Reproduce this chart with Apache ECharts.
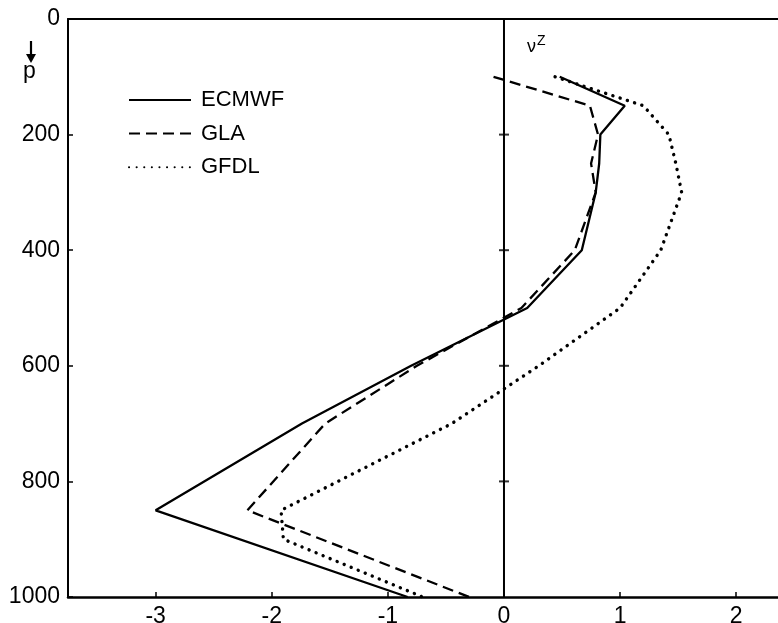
<!DOCTYPE html>
<html>
<head>
<meta charset="utf-8">
<script src="https://cdn.jsdelivr.net/npm/echarts@6/dist/echarts.min.js"></script>
<style>html,body{margin:0;padding:0;background:#fff}#c{width:778px;height:623px}</style>
</head>
<body>
<div id="c"></div>
<script>
// pressure levels (hPa) and values
const pLevels = [100, 150, 200, 250, 300, 400, 500, 600, 700, 850, 1000];
const ecmwf = [0.48, 1.04, 0.83, 0.82, 0.79, 0.67, 0.20, -0.80, -1.74, -3.00, -0.83];
const gla   = [-0.09, 0.74, 0.81, 0.75, 0.79, 0.61, 0.15, -0.75, -1.54, -2.21, -0.30];
const gfdlLevels = [100, 150, 200, 250, 300, 400, 500, 600, 700, 850, 900, 1000];
const gfdl  = [0.44, 1.20, 1.42, 1.48, 1.53, 1.35, 1.00, 0.30, -0.45, -1.92, -1.90, -0.70];
const xTicks = [-3, -2, -1, 0, 1, 2];
const yTicks = [0, 200, 400, 600, 800, 1000];
const zeroLineTicks = [200, 400, 600, 800];

const pair = (vals, lev) => vals.map((v, i) => [v, lev[i]]);
const FONT = 'Liberation Sans, Arial, sans-serif';
const FS = 23;

const chart = echarts.init(document.getElementById('c'), null, {renderer: 'canvas'});
chart.setOption({
  animation: false,
  backgroundColor: '#fff',
  grid: {left: 68, right: 0, top: 19, bottom: 26, containLabel: false, outerBoundsMode: 'none'},
  legend: {
    orient: 'vertical', left: 128, top: 89, padding: 0,
    itemWidth: 62, itemHeight: 24, itemGap: 11.6,
    itemStyle: {opacity: 0},
    textStyle: {fontFamily: FONT, fontSize: 22, color: '#000', padding: [0, 0, 0, 5]},
    data: ['ECMWF', 'GLA', 'GFDL']
  },
  xAxis: [{
    type: 'value', min: -3.755, max: 2.36, position: 'bottom',
    splitLine: {show: false},
    axisLine: {onZero: false, lineStyle: {color: '#000', width: 2.5}},
    axisTick: {inside: true, length: 5, lineStyle: {color: '#000', width: 1.5}, customValues: xTicks},
    axisLabel: {customValues: xTicks, margin: 8, fontFamily: FONT, fontSize: FS, color: '#000',
      formatter: v => String(v)}
  }, {
    type: 'value', min: -3.755, max: 2.36, position: 'top',
    splitLine: {show: false},
    axisLine: {onZero: false, lineStyle: {color: '#000', width: 2}},
    axisTick: {show: false}, axisLabel: {show: false}
  }],
  yAxis: [{
    type: 'value', inverse: true, min: 0, max: 1000, interval: 200,
    splitLine: {show: false},
    axisLine: {onZero: false, lineStyle: {color: '#000', width: 2}},
    axisTick: {inside: true, length: 5, lineStyle: {color: '#000', width: 1.5}},
    axisLabel: {margin: 8, fontFamily: FONT, fontSize: FS, color: '#000',
      formatter: v => String(v)}
  }],
  graphic: [
    {type: 'line', shape: {x1: 31, y1: 41, x2: 31, y2: 56}, style: {stroke: '#000', lineWidth: 2.2}},
    {type: 'polygon', shape: {points: [[26, 54], [36, 54], [31, 63]]}, style: {fill: '#000'}},
    {type: 'text', left: 23, top: 60, style: {text: 'p', fontFamily: FONT, fontSize: FS, fill: '#000'}},
    {type: 'text', left: 527, top: 34, style: {
      text: '{a|ν}{b|Z}', fill: '#000',
      rich: {a: {fontFamily: FONT, fontSize: 18, padding: [12, 0, 0, 0]}, b: {fontFamily: FONT, fontSize: 14, padding: [0, 0, 0, 1]}}
    }}
  ],
  series: [
    {
      name: 'zero', type: 'line', data: [[0, 0], [0, 1000]], symbol: 'none', silent: true,
      lineStyle: {color: '#000', width: 2}
    },
    {
      name: 'zeroTicks', type: 'scatter', data: zeroLineTicks.map(p => [0, p]),
      symbol: 'rect', symbolSize: [10, 2], itemStyle: {color: '#000'}, silent: true
    },
    {
      name: 'ECMWF', type: 'line', data: pair(ecmwf, pLevels), symbol: 'none',
      lineStyle: {color: '#000', width: 2.3, type: 'solid'}, itemStyle: {color: '#000'}
    },
    {
      name: 'GLA', type: 'line', data: pair(gla, pLevels), symbol: 'none',
      lineStyle: {color: '#000', width: 2.3, type: [11, 6]}, itemStyle: {color: '#000'}
    },
    {
      name: 'GFDL', type: 'line', data: pair(gfdl, gfdlLevels), symbol: 'none',
      lineStyle: {color: '#000', width: 3.4, type: [0.1, 7.5], cap: 'round'}, itemStyle: {color: '#000'}
    }
  ]
});
</script>
</body>
</html>
